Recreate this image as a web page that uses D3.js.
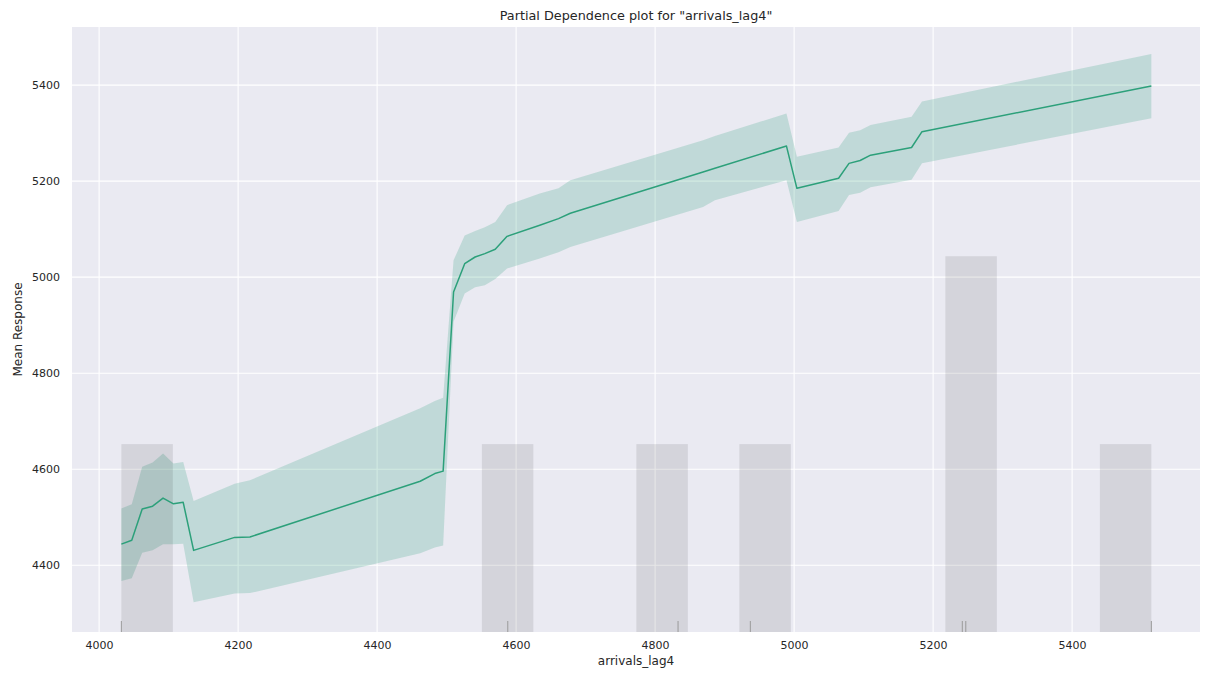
<!DOCTYPE html>
<html>
<head>
<meta charset="utf-8">
<script src="https://cdn.jsdelivr.net/npm/d3@7"></script>
<style>
  html, body { margin: 0; padding: 0; background: #ffffff; }
  svg { display: block; }
  text { font-family: "DejaVu Sans", sans-serif; fill: #262626; }
</style>
</head>
<body>
<svg id="chart" width="1206" height="673"></svg>
<script>
// ---- data ----
const gridX = [4032, 4047, 4062, 4077, 4092, 4107, 4121, 4136, 4195, 4217,
  4462, 4483, 4495, 4510, 4526, 4541, 4555, 4570, 4587, 4634, 4661, 4678,
  4869, 4886, 4989, 5004, 5064, 5079, 5095, 5110, 5169, 5184, 5514];
const meanResponse = [4444, 4452, 4517, 4523, 4540, 4528, 4531, 4431, 4458, 4459,
  4575, 4591, 4596, 4969, 5028, 5042, 5049, 5058, 5085, 5108, 5122, 5133,
  5219, 5227, 5273, 5185, 5206, 5237, 5243, 5254, 5270, 5303, 5398];
const upperBound = [4518, 4527, 4605, 4614, 4633, 4612, 4615, 4534, 4570, 4577,
  4727, 4742, 4749, 5035, 5087, 5096, 5104, 5115, 5150, 5174, 5185, 5202,
  5285, 5294, 5341, 5251, 5270, 5301, 5306, 5317, 5334, 5366, 5465];
const lowerBound = [4367, 4373, 4426, 4431, 4444, 4444, 4445, 4323, 4341, 4342,
  4425, 4437, 4441, 4907, 4966, 4979, 4983, 4996, 5018, 5039, 5052, 5063,
  5146, 5160, 5202, 5115, 5138, 5171, 5176, 5187, 5203, 5237, 5331];
const rugValues = [4032, 4588, 4833, 4937, 5242, 5247, 5514];
const xTicks = [4000, 4200, 4400, 4600, 4800, 5000, 5200, 5400];
const yTicks = [4400, 4600, 4800, 5000, 5200, 5400];
const nBins = 20;
const titleText = 'Partial Dependence plot for "arrivals_lag4"';
const xLabel = "arrivals_lag4";
const yLabel = "Mean Response";

// ---- layout ----
const pL = 72, pR = 1200, pT = 27, pB = 632;
const lineColor = "#2ca07a";

const svg = d3.select("#chart");
const x = d3.scaleLinear().domain([3961, 5584]).range([pL, pR]);
const y = d3.scaleLinear().domain([4261, 5521]).range([pB, pT]);

// histogram bins
const xMin = d3.min(rugValues), xMax = d3.max(rugValues);
const binW = (xMax - xMin) / nBins;
const counts = new Array(nBins).fill(0);
rugValues.forEach(v => { counts[Math.min(nBins - 1, Math.floor((v - xMin) / binW))] += 1; });
const bins = counts.map((c, i) => ({ x0: xMin + i * binW, x1: xMin + (i + 1) * binW, count: c }));
const yHist = d3.scaleLinear().domain([0, 3.22]).range([pB, pT]);

// background
svg.append("rect").attr("x", pL).attr("y", pT)
  .attr("width", pR - pL).attr("height", pB - pT).attr("fill", "#eaeaf2");

// grid
const g = svg.append("g");
g.selectAll(".gx").data(xTicks).join("line")
  .attr("x1", d => x(d)).attr("x2", d => x(d)).attr("y1", pT).attr("y2", pB)
  .attr("stroke", "#ffffff").attr("stroke-width", 1.1);
g.selectAll(".gy").data(yTicks).join("line")
  .attr("x1", pL).attr("x2", pR).attr("y1", d => y(d)).attr("y2", d => y(d))
  .attr("stroke", "#ffffff").attr("stroke-width", 1.1);

// confidence band
const area = d3.area().x((d, i) => x(gridX[i])).y0((d, i) => y(lowerBound[i])).y1((d, i) => y(upperBound[i]));
svg.append("path").datum(gridX).attr("d", area)
  .attr("fill", lineColor).attr("fill-opacity", 0.22).attr("stroke", "none");

// histogram
svg.selectAll(".bar").data(bins.filter(b => b.count > 0)).join("rect")
  .attr("x", d => x(d.x0)).attr("width", d => x(d.x1) - x(d.x0))
  .attr("y", d => yHist(d.count)).attr("height", d => pB - yHist(d.count))
  .attr("fill", "#000").attr("fill-opacity", 0.095);

// rug
svg.selectAll(".rug").data(rugValues).join("line")
  .attr("x1", d => x(d)).attr("x2", d => x(d)).attr("y1", pB).attr("y2", pB - 11)
  .attr("stroke", "#9a9a9a").attr("stroke-width", 1);

// mean line
const line = d3.line().x((d, i) => x(gridX[i])).y((d, i) => y(meanResponse[i]));
svg.append("path").datum(gridX).attr("d", line)
  .attr("fill", "none").attr("stroke", lineColor).attr("stroke-width", 1.5)
  .attr("stroke-linejoin", "round");

// axes (tick labels only, seaborn darkgrid style)
const xAxis = svg.append("g").attr("transform", `translate(0,${pB})`)
  .call(d3.axisBottom(x).tickValues(xTicks).tickSize(0).tickPadding(9).tickFormat(d3.format("d")));
xAxis.select(".domain").remove();
xAxis.selectAll("text").style("font-size", "11px").style("fill", "#262626")
  .style("font-family", '"DejaVu Sans", sans-serif');

const yAxis = svg.append("g").attr("transform", `translate(${pL},0)`)
  .call(d3.axisLeft(y).tickValues(yTicks).tickSize(0).tickPadding(12).tickFormat(d3.format("d")));
yAxis.select(".domain").remove();
yAxis.selectAll("text").style("font-size", "11px").style("fill", "#262626")
  .style("font-family", '"DejaVu Sans", sans-serif');

// labels
svg.append("text").attr("x", (pL + pR) / 2).attr("y", 20)
  .attr("text-anchor", "middle").style("font-size", "12.8px").text(titleText);
svg.append("text").attr("x", (pL + pR) / 2).attr("y", 665)
  .attr("text-anchor", "middle").style("font-size", "12px").text(xLabel);
svg.append("text").attr("transform", `translate(22,${(pT + pB) / 2}) rotate(-90)`)
  .attr("text-anchor", "middle").style("font-size", "12px").text(yLabel);
</script>
</body>
</html>
